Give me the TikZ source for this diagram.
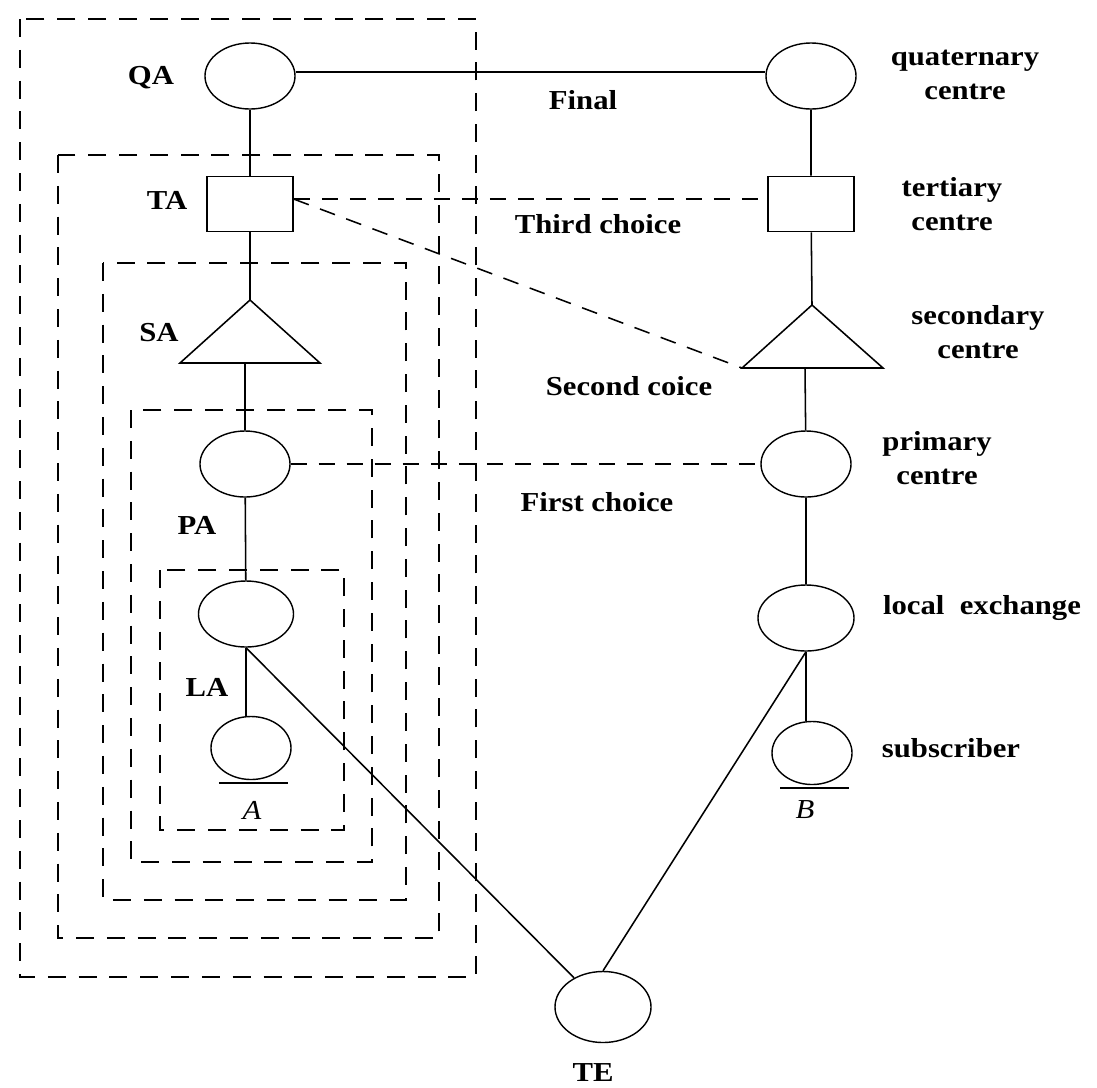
\documentclass[tikz,border=0pt]{standalone}
\usepackage{fontspec}
\setmainfont{Liberation Serif}[FakeStretch=1.12]
\usetikzlibrary{shapes.geometric}

\begin{document}
\begin{tikzpicture}[x=0.025cm, y=-0.025cm, line width=1.1pt,
    ell/.style={draw, ellipse, line width=1pt, minimum width=2.25cm, minimum height=1.65cm, inner sep=0pt},
    sub/.style={ell, minimum width=2cm, minimum height=1.575cm},
    box/.style={draw, rectangle, minimum width=2.15cm, minimum height=1.375cm, inner sep=0pt},
    lab/.style={font=\fontsize{19.5}{24}\selectfont\bfseries, align=center, inner sep=0pt},
    ital/.style={font=\fontsize{19.5}{24}\selectfont\itshape, inner sep=0pt},
    zone/.style={dash pattern=on 0.45cm off 0.32cm},
    choice/.style={dash pattern=on 0.4cm off 0.3cm}]
  \useasboundingbox (0,0) rectangle (1097,1087);

  % areas
  \draw[zone] (20,19) rectangle (476,977);
  \draw[zone] (58,155) rectangle (439,938);
  \draw[zone] (103,263) rectangle (406,900);
  \draw[zone] (131,410) rectangle (372,862);
  \draw[zone] (160,570) rectangle (344,830);

  % left side
  \node[ell] (QA) at (250,76) {};
  \node[box] (TA) at (250,204) {};
  \coordinate (SA) at (250,300);
  \coordinate (SAl) at (180,363);
  \coordinate (SAr) at (320,363);
  \coordinate (SAb) at (245,363);
  \draw (SA) -- (SAr) -- (SAl) -- cycle;
  \node[ell] (PA) at (245,464) {};
  \node[ell, minimum width=2.375cm] (LA) at (246,614) {};
  \node[sub] (A) at (251,748) {};

  \node[lab] (lQA) at (151,78) {QA};
  \node[lab] (lTA) at (167,200) {TA};
  \node[lab] (lSA) at (159,333) {SA};
  \node[lab] (lPA) at (197,525) {PA};
  \node[lab] (lLA) at (207,687) {LA};
  \node[ital] (lA) at (252,810) {A};

  \draw (QA) -- (TA) -- (SA);
  \draw (SAb) -- (PA) -- (LA);
  \draw (LA.south) -- (LA.south |- A.north);
  \draw ([xshift=-0.8cm, yshift=-2pt]A.south) -- ([xshift=0.92cm, yshift=-2pt]A.south);

  % right side
  \node[ell] (Q) at (811,76) {};
  \node[box] (T) at (811,204) {};
  \coordinate (S) at (812,305);
  \coordinate (Sl) at (742,368);
  \coordinate (Sr) at (883,368);
  \coordinate (Sb) at (805,368);
  \draw (S) -- (Sr) -- (Sl) -- cycle;
  \node[ell] (P) at (806,464) {};
  \node[ell, minimum width=2.4cm] (L) at (806,618) {};
  \node[sub] (B) at (812,753) {};

  \node[lab] (lQ) at (965,75) {quaternary\\centre};
  \node[lab] (lT) at (952,204) {tertiary\\centre};
  \node[lab] (lS) at (978,332) {secondary\\centre};
  \node[lab] (lP) at (937,458) {primary\\centre};
  \node[lab] (lL) at (982,608) {local~~exchange};
  \node[lab] (lB) at (951,748) {subscriber};
  \node[ital] (lBB) at (805,810) {B};

  \draw (Q) -- (T) -- (S);
  \draw (Sb) -- (P) -- (L);
  \draw (L.south) -- (L.south |- B.north);
  \draw ([xshift=-0.8cm, yshift=-2pt]B.south) -- ([xshift=0.92cm, yshift=-2pt]B.south);

  % routes
  \draw ([yshift=3pt]QA.east) -- ([yshift=3pt]Q.west);
  \draw[choice] ([yshift=3.5pt]TA.east) -- ([yshift=3.5pt]T.west);
  \draw[choice] ([yshift=3.5pt]TA.east) -- (Sl);
  \draw[choice] (PA) -- (P);

  \node[lab] (fin) at (583,100) {Final};
  \node[lab] (third) at (598,224) {Third choice};
  \node[lab] (second) at (629,386) {Second coice};
  \node[lab] (first) at (597,502) {First choice};

  % transit exchange
  \node[ell, minimum width=2.4cm, minimum height=1.775cm] (TE) at (603,1007) {};
  \node[lab] (lTE) at (593,1073) {TE};
  \draw (LA.south) -- (TE);
  \draw (L.south) -- (TE.north);
\end{tikzpicture}
\end{document}
